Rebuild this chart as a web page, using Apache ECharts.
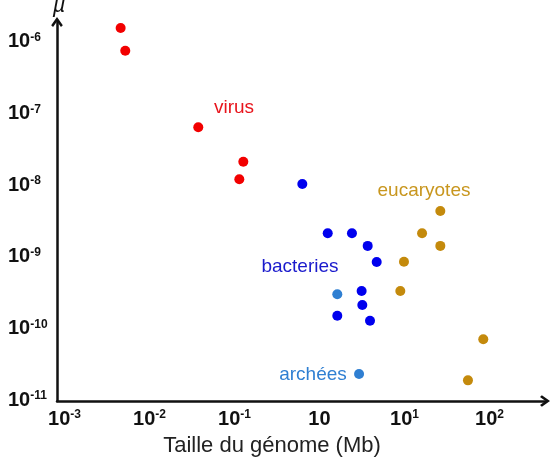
<!DOCTYPE html>
<html>
<head>
<meta charset="utf-8">
<script src="https://cdn.jsdelivr.net/npm/echarts@6/dist/echarts.min.js"></script>
<style>html,body{margin:0;padding:0;background:#fff}#c{width:556px;height:462px}</style>
</head>
<body>
<div id="c"></div>
<script>
// Genome size (Mb) and mutation rate (µ) per group
const virusSize = [0.00458, 0.00519, 0.0375, 0.127, 0.114];
const virusRate = [1.57e-6, 7.55e-7, 6.44e-8, 2.13e-8, 1.21e-8];
const bactSize = [0.628, 1.25, 2.41, 3.69, 4.71, 3.13, 3.19, 1.62, 3.93];
const bactRate = [1.04e-8, 2.13e-9, 2.13e-9, 1.42e-9, 8.45e-10, 3.33e-10, 2.12e-10, 1.50e-10, 1.28e-10];
const archSize = [1.62, 2.92];
const archRate = [2.99e-10, 2.31e-11];
const eukSize = [26.4, 16.1, 26.4, 9.86, 8.93, 84.5, 55.8];
const eukRate = [4.37e-9, 2.13e-9, 1.42e-9, 8.55e-10, 3.33e-10, 7.05e-11, 1.88e-11];

// Tick positions (decades) and their labels
const xTickExp = [-3, -2, -1, 0, 1, 2];
const xTickLabels = ['10^-3', '10^-2', '10^-1', '10', '10^1', '10^2'];
const yTickExp = [-11, -10, -9, -8, -7, -6];
const yTickLabels = ['10^-11', '10^-10', '10^-9', '10^-8', '10^-7', '10^-6'];

const FONT = '"Liberation Sans", Arial, Helvetica, sans-serif';

function pts(xs, ys) {
  return xs.map((x, i) => [Math.log10(x), Math.log10(ys[i])]);
}
function richLabel(s) {
  const parts = s.split('^');
  return parts.length > 1 ? '{b|' + parts[0] + '}{s|' + parts[1] + '}' : '{b|' + parts[0] + '}';
}
const rich = {
  b: { fontSize: 20, fontWeight: 'bold', color: '#111', fontFamily: FONT, lineHeight: 20, verticalAlign: 'bottom' },
  s: { fontSize: 12, fontWeight: 'bold', color: '#111', fontFamily: FONT, lineHeight: 20, verticalAlign: 'top', padding: [0, 0, 6, 0] }
};
const arrow = 'path://M5,0 L10,7 L8.4,8.6 L5,3.8 L1.6,8.6 L0,7 Z';

const chart = echarts.init(document.getElementById('c'), null, { renderer: 'canvas' });
chart.setOption({
  animation: false,
  backgroundColor: '#fff',
  grid: { left: 57, right: 11, top: 22, bottom: 61 },
  xAxis: {
    type: 'value', min: -3.088, max: 2.653,
    splitLine: { show: false }, axisTick: { show: false },
    axisLine: { onZero: false, lineStyle: { color: '#111', width: 2.5 }, symbol: ['none', arrow], symbolSize: [13, 10] },
    axisLabel: {
      customValues: xTickExp, margin: 8,
      formatter: v => richLabel(xTickLabels[xTickExp.indexOf(Math.round(v))] || ''),
      rich: rich
    }
  },
  yAxis: {
    type: 'value', min: -11.014, max: -5.721,
    splitLine: { show: false }, axisTick: { show: false },
    axisLine: { onZero: false, lineStyle: { color: '#111', width: 2.5 }, symbol: ['none', arrow], symbolSize: [13, 10] },
    axisLabel: {
      customValues: yTickExp, margin: 49, align: 'left',
      formatter: v => richLabel(yTickLabels[yTickExp.indexOf(Math.round(v))] || ''),
      rich: rich
    }
  },
  series: [
    { name: 'virus', type: 'scatter', symbolSize: 10, itemStyle: { color: '#f20000', opacity: 1 }, data: pts(virusSize, virusRate) },
    { name: 'bacteries', type: 'scatter', symbolSize: 10, itemStyle: { color: '#0000ee', opacity: 1 }, data: pts(bactSize, bactRate) },
    { name: 'archées', type: 'scatter', symbolSize: 10, itemStyle: { color: '#2f7fd2', opacity: 1 }, data: pts(archSize, archRate) },
    { name: 'eucaryotes', type: 'scatter', symbolSize: 10, itemStyle: { color: '#c48a0c', opacity: 1 }, data: pts(eukSize, eukRate) }
  ],
  graphic: [
    { type: 'text', x: 234, y: 108, style: { text: 'virus', fill: '#e8141c', font: '19px ' + FONT, textAlign: 'center', textVerticalAlign: 'middle' } },
    { type: 'text', x: 300, y: 267, style: { text: 'bacteries', fill: '#1a1acc', font: '19px ' + FONT, textAlign: 'center', textVerticalAlign: 'middle' } },
    { type: 'text', x: 424, y: 191, style: { text: 'eucaryotes', fill: '#c8961e', font: '19px ' + FONT, textAlign: 'center', textVerticalAlign: 'middle' } },
    { type: 'text', x: 313, y: 375, style: { text: 'archées', fill: '#2f7fd2', font: '19px ' + FONT, textAlign: 'center', textVerticalAlign: 'middle' } },
    { type: 'text', x: 272, y: 446, style: { text: 'Taille du génome (Mb)', fill: '#222', font: '22px ' + FONT, textAlign: 'center', textVerticalAlign: 'middle' } },
    { type: 'text', x: 59, y: 6, style: { text: 'µ', fill: '#111', font: 'italic 22px ' + FONT, textAlign: 'center', textVerticalAlign: 'middle' } }
  ]
});
</script>
</body>
</html>
